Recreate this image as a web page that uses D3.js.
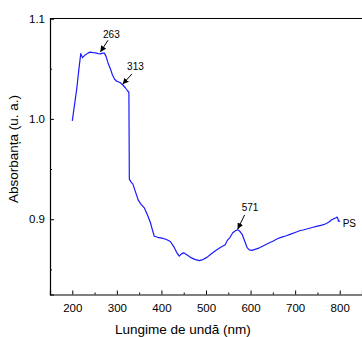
<!DOCTYPE html>
<html>
<head>
<meta charset="utf-8">
<script src="https://cdn.jsdelivr.net/npm/d3@7/dist/d3.min.js"></script>
<style>
  html, body { margin: 0; padding: 0; background: #fff; }
  svg { display: block; }
  text { font-family: "Liberation Sans", Arial, sans-serif; fill: #000; }
</style>
</head>
<body>
<svg id="chart" width="362" height="337"></svg>
<script>
// UV-Vis absorption spectrum of the PS sample
const wavelength = [200,205,210,215,219,223,229,235,240,247,252,258,263,268,272,276,280,285,290,295,300,307,313,319,324,327,
  328,332,336,342,348,354,362,368,375,380,384,392,401,410,420,428,434,440,445,450,457,465,475,485,493,502,510,518,526,535,
  543,548,554,560,566,571,576,581,587,592,597,603,610,620,630,640,650,660,670,680,690,700,710,720,730,740,750,760,765,770,
  776,782,788,792,794,796,797,801];
const absorbance = [0.998,1.014,1.030,1.050,1.065,1.061,1.0637,1.0655,1.0665,1.066,1.0657,1.065,1.0647,1.0655,1.0655,1.062,
  1.056,1.0505,1.044,1.0395,1.0375,1.0362,1.034,1.031,1.028,1.0265,
  0.940,0.937,0.935,0.927,0.919,0.915,0.911,0.905,0.897,0.889,0.883,0.882,0.8812,0.880,0.8778,0.8725,0.867,0.8632,0.8655,
  0.8665,0.8645,0.862,0.860,0.8588,0.8598,0.862,0.8648,0.8675,0.870,0.8725,0.8745,0.879,0.882,0.8865,0.8885,0.8896,0.888,
  0.885,0.878,0.872,0.8695,0.869,0.870,0.8715,0.8738,0.876,0.878,0.8805,0.8822,0.8835,0.8852,0.8868,0.8885,0.8895,0.8908,
  0.892,0.8932,0.8942,0.8948,0.8958,0.8972,0.8995,0.9008,0.9015,0.9022,0.9005,0.8982,0.8982];
const seriesName = "PS";
const peakLabels = [263, 313, 571];
const xTicks = [200, 300, 400, 500, 600, 700, 800];
const xMinorTicks = [150, 250, 350, 450, 550, 650, 750, 850];
const yTicks = [0.9, 1.0, 1.1];
const yMinorTicks = [0.85, 0.95, 1.05];
const xTitle = "Lungime de undă (nm)";
const yTitle = "Absorbanța (u. a.)";

const svg = d3.select("#chart");
const plotLeft = 50, plotRight = 362, plotTop = 18.5, plotBottom = 294.5;

const x = d3.scaleLinear().domain([150, 850]).range([plotLeft, plotRight]);
const y = d3.scaleLinear().domain([0.825, 1.1]).range([plotBottom, plotTop]);

// frame
svg.append("line").attr("x1", plotLeft).attr("x2", plotRight + 2).attr("y1", plotTop).attr("y2", plotTop)
  .attr("stroke", "#000").attr("stroke-width", 1.2);

// bottom axis, ticks pointing inward
svg.append("g").attr("transform", `translate(0,${plotBottom})`)
  .call(d3.axisBottom(x).tickValues(xTicks).tickSize(-4).tickPadding(9).tickFormat(d3.format("d")));
svg.append("g").attr("transform", `translate(0,${plotBottom})`)
  .call(d3.axisBottom(x).tickValues(xMinorTicks).tickSize(-2).tickFormat(""))
  .call(g => g.select(".domain").remove());

// left axis, ticks pointing inward
svg.append("g").attr("transform", `translate(${plotLeft},0)`)
  .call(d3.axisLeft(y).tickValues(yTicks).tickSize(-4).tickPadding(5).tickFormat(d3.format(".1f")));
svg.append("g").attr("transform", `translate(${plotLeft},0)`)
  .call(d3.axisLeft(y).tickValues(yMinorTicks).tickSize(-2).tickFormat(""))
  .call(g => g.select(".domain").remove());

svg.selectAll(".domain").attr("stroke", "#000").attr("stroke-width", 1.2);
svg.selectAll(".tick line").attr("stroke", "#000").attr("stroke-width", 1);
svg.selectAll(".tick text").attr("font-family", "Liberation Sans, Arial, sans-serif")
  .attr("font-size", 11.5).attr("fill", "#222");

// axis titles
svg.append("text").attr("x", 115).attr("y", 333.5)
  .attr("font-size", 13.5).attr("fill", "#111").text(xTitle);
svg.append("text").attr("transform", "translate(17.5,203) rotate(-90)")
  .attr("font-size", 13.5).attr("fill", "#111").text(yTitle);

// spectrum
const pts = wavelength.map((w, i) => [w, absorbance[i]]);
svg.append("path").datum(pts)
  .attr("fill", "none").attr("stroke", "#1a1aff").attr("stroke-width", 1.2)
  .attr("stroke-linejoin", "round")
  .attr("d", d3.line().x(d => x(d[0])).y(d => y(d[1])));

// series label
svg.append("text")
  .attr("x", x(wavelength[wavelength.length - 1]) + 2.5)
  .attr("y", y(absorbance[absorbance.length - 1]) + 6)
  .attr("font-size", 10).text(seriesName);

// peak annotations with arrows
const defs = svg.append("defs");
defs.append("marker").attr("id", "arrowHead")
  .attr("viewBox", "0 0 10 10").attr("refX", 10).attr("refY", 5)
  .attr("markerWidth", 6).attr("markerHeight", 6).attr("markerUnits", "userSpaceOnUse")
  .attr("orient", "auto")
  .append("path").attr("d", "M0,0 L10,5 L0,10 Z").attr("fill", "#000");

const interp = w => {
  const i = d3.bisectLeft(wavelength, w);
  if (wavelength[i] === w) return absorbance[i];
  const t = (w - wavelength[i - 1]) / (wavelength[i] - wavelength[i - 1]);
  return absorbance[i - 1] + t * (absorbance[i] - absorbance[i - 1]);
};
const layout = {
  263: { sx: 7.7, sy: -11.7, tx: 11, ty: -14.4, gap: 2 },
  313: { sx: 9.3, sy: -10.3, tx: 12.8, ty: -14.3, gap: 0.5 },
  571: { sx: 7, sy: -14.3, tx: 12.4, ty: -17.8, gap: 0.5 }
};
peakLabels.forEach(p => {
  const L = layout[p];
  const tipX = x(p), tipY = y(interp(p)) - L.gap;
  svg.append("line")
    .attr("x1", tipX + L.sx).attr("y1", tipY + L.sy)
    .attr("x2", tipX).attr("y2", tipY)
    .attr("stroke", "#000").attr("stroke-width", 1)
    .attr("marker-end", "url(#arrowHead)");
  svg.append("text").attr("x", tipX + L.tx).attr("y", tipY + L.ty)
    .attr("text-anchor", "middle").attr("font-size", 10).text(p);
});
</script>
</body>
</html>
